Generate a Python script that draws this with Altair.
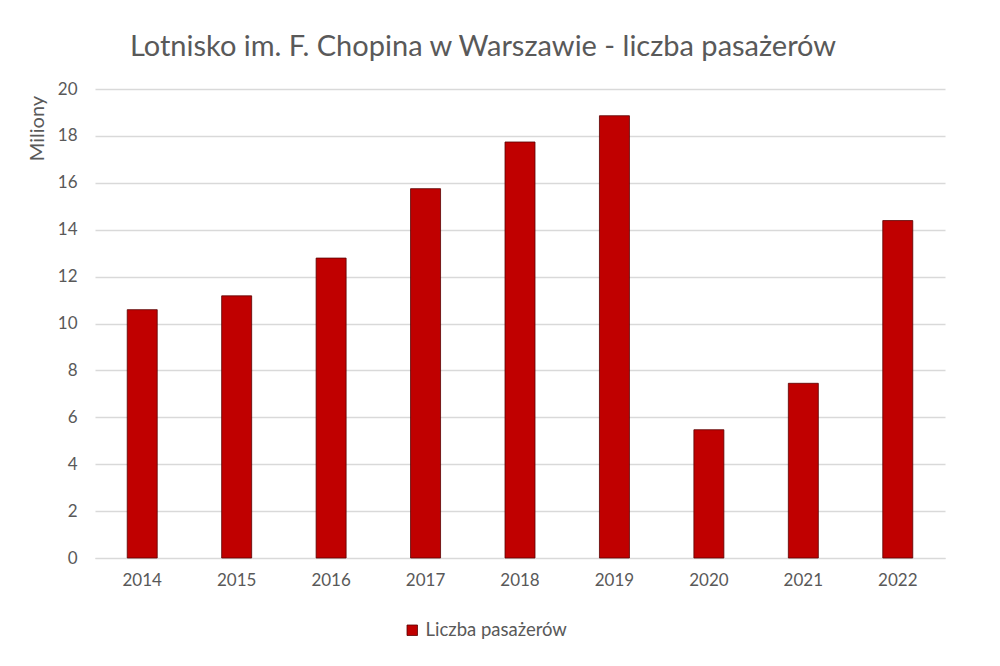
import altair as alt
import pandas as pd

years = ["2014", "2015", "2016", "2017", "2018", "2019", "2020", "2021", "2022"]
passengers = [10.59, 11.18, 12.79, 15.75, 17.74, 18.86, 5.47, 7.45, 14.39]
series = ["Liczba pasażerów"] * len(years)

df = pd.DataFrame({"rok": years, "pasazerowie": passengers, "seria": series})

FONT = "Lato"
GREY = "#595959"

chart = alt.Chart(df).mark_bar(
    size=30, stroke="#5a0000", strokeWidth=0.8
).encode(
    x=alt.X("rok:N", title=None, sort=years,
            axis=alt.Axis(labelAngle=0, ticks=False, domain=True, domainColor="#d9d9d9",
                          labelPadding=14, labelFontSize=17, labelColor=GREY, labelFont=FONT)),
    y=alt.Y("pasazerowie:Q", title="Miliony",
            scale=alt.Scale(domain=[0, 20]),
            axis=alt.Axis(values=list(range(0, 21, 2)), ticks=False, domain=False,
                          gridColor="#d9d9d9", gridWidth=1.3,
                          labelPadding=18, labelFontSize=17, labelColor=GREY, labelFont=FONT,
                          titleFont=FONT, titleFontSize=20, titleColor=GREY, titleFontWeight="normal",
                          titleAngle=-90, titleX=-58, titleY=39, titleAlign="center",
                          titleBaseline="middle")),
    color=alt.Color("seria:N", title=None,
                    scale=alt.Scale(range=["#c00000"]),
                    legend=alt.Legend(orient="none", legendX=308, legendY=532,
                                      symbolType="square", symbolSize=110,
                                      symbolStrokeColor="#5a0000", symbolStrokeWidth=0.8,
                                      labelFont=FONT, labelFontSize=18.5, labelColor=GREY)),
).properties(
    width=850,
    height=469,
    background="white",
    title=alt.TitleParams("Lotnisko im. F. Chopina w Warszawie - liczba pasażerów",
                          font=FONT, fontSize=29, fontWeight="normal", color=GREY,
                          anchor="middle", dx=-37, offset=18),
    padding={"left": 87, "top": 81, "right": 47, "bottom": 100},
    autosize=alt.AutoSizeParams(type="none"),
).configure_view(stroke=None)

chart.save("out.html", embed_options={"renderer": "svg", "actions": False})
